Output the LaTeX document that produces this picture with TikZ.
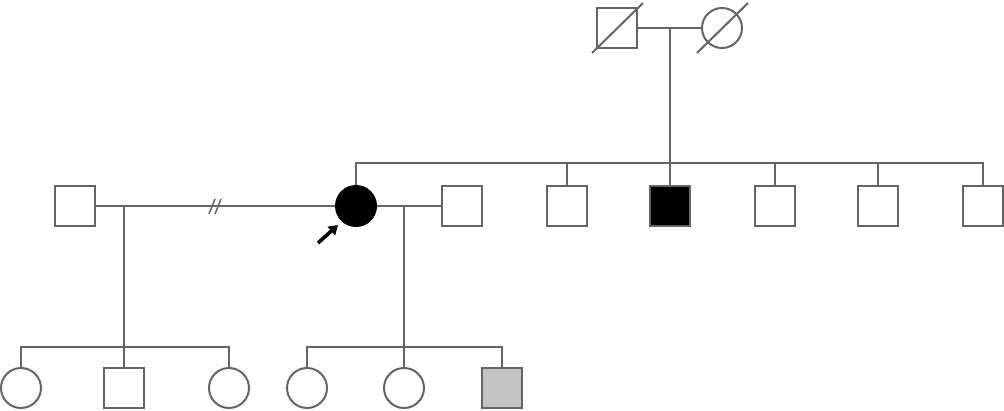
\documentclass[tikz,border=0pt]{standalone}
\usetikzlibrary{arrows.meta}
\definecolor{pedgray}{RGB}{100,100,100}
\definecolor{carrier}{RGB}{196,196,196}
\tikzset{
  ped/.style={draw=pedgray, line width=2pt},
  male/.style={ped, rectangle, minimum size=40pt, inner sep=0pt},
  female/.style={ped, circle, minimum size=40pt, inner sep=0pt},
}
\begin{document}
\begin{tikzpicture}[x=1pt, y=-1pt]
    \useasboundingbox (0,0) rectangle (1004,410);

    % generation I (both deceased)
    \node[male] (gf) at (617,28) {};
    \node[female] (gm) at (722,28) {};
    \draw[ped] (592,53) -- (643,3);
    \draw[ped] (697,53) -- (748,3);
    \draw[ped] (gf) -- (gm);
    \coordinate (gI) at (670,28);
    \coordinate (sibI) at (983,163);

    % generation II
    \node[male] (exh) at (75,206) {};
    \node[female, fill=black, draw=black] (pro) at (356,206) {};
    \node[male] (hus) at (462,206) {};
    \node[male] (s2) at (567,206) {};
    \node[male, fill=black] (s3) at (670,206) {};
    \node[male] (s4) at (775,206) {};
    \node[male] (s5) at (878,206) {};
    \node[male] (s6) at (983,206) {};

    \draw[ped] (gI) -- (gI |- sibI);
    \draw[ped] (pro.north) |- (sibI) -- (s6.north);
    \foreach \n in {s2,s3,s4,s5}
        \draw[ped] (\n.north) -- (\n.north |- sibI);

    % former partner (separated)
    \draw[ped] (exh) -- (pro);
    \draw[ped, line width=1.5pt] (209,214) -- (215,199);
    \draw[ped, line width=1.5pt] (215,214) -- (221,199);
    \draw[ped] (pro) -- (hus);

    % proband arrow
    \coordinate (arr) at (318,243);
    \draw[-{Triangle[length=9pt,width=11pt]}, line width=3.6pt, black] (arr) -- (338,225);

    % generation III
    \node[female] (c1) at (21,388) {};
    \node[male] (c2) at (124,388) {};
    \node[female] (c3) at (229,388) {};
    \node[female] (c4) at (307,388) {};
    \node[female] (c5) at (404,388) {};
    \node[male, fill=carrier] (c6) at (502,388) {};

    \coordinate (famL) at (124,347);
    \coordinate (famR) at (404,347);
    \draw[ped] (c1.north) |- (famL) -| (c3.north);
    \draw[ped] (c2.north) -- (c2.north |- exh);
    \draw[ped] (c4.north) |- (famR) -| (c6.north);
    \draw[ped] (c5.north) -- (c5.north |- hus);
\end{tikzpicture}
\end{document}
